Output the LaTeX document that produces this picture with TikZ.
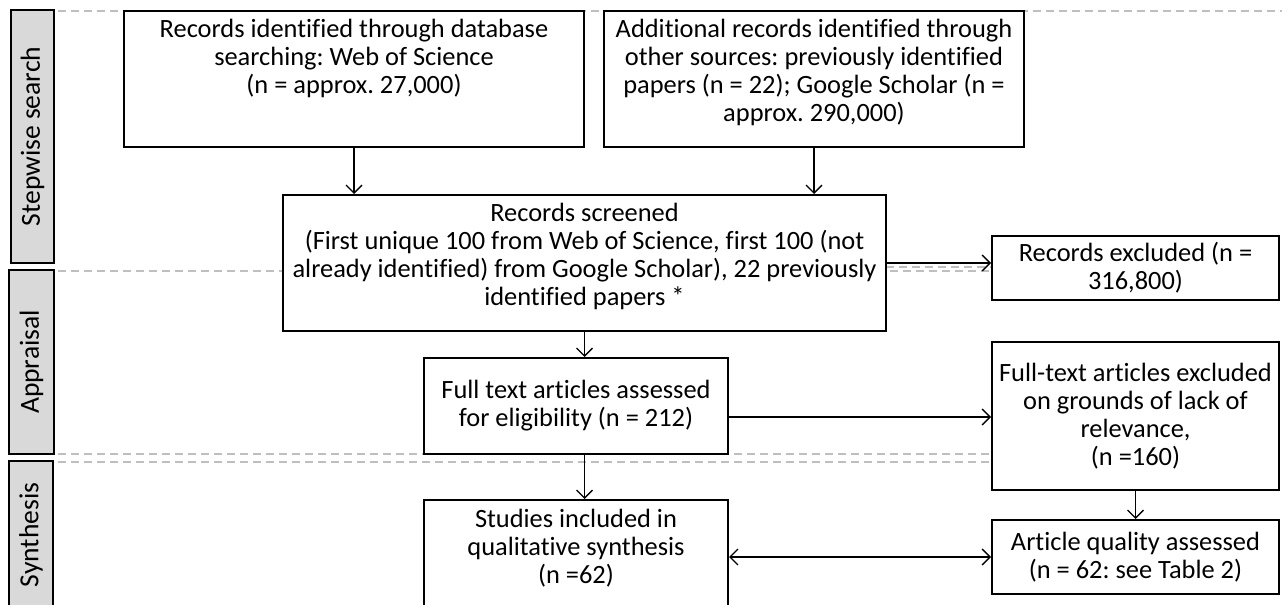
\documentclass[tikz,border=0pt]{standalone}
\usepackage{fontspec}
\setmainfont{Carlito}[Ligatures=NoCommon]
\usetikzlibrary{arrows.meta,calc}
\definecolor{lblgray}{HTML}{D9D9D9}
\definecolor{dashgray}{HTML}{BFBFBF}
\frenchspacing
\begin{document}
\begin{tikzpicture}[x=0.5pt,y=-0.5pt,
  font=\fontsize{13.2}{14}\selectfont,
  box/.style={draw, line width=1pt, fill=white, inner sep=0pt, align=center},
  lbl/.style={draw, line width=1pt, fill=lblgray, inner sep=0pt, rotate=90, font=\fontsize{13.8}{14}\selectfont},
  sepline/.style={draw=dashgray, line width=1pt, dash pattern=on 4pt off 2.5pt},
  tip/.tip={Straight Barb[length=4pt,width=8pt]},
  arr/.style={line width=0.7pt, -{tip}},
  darr/.style={line width=0.7pt, {tip}-{tip}},
  toptext/.style={anchor=north, align=center, inner sep=0pt}]
\useasboundingbox (0,0) rectangle (1282,605);
\clip (0,0) rectangle (1282,605);
% separators
\draw[sepline] (58,11) -- (1282,11);
\draw[sepline] (58,271) -- (992,271);
\draw[sepline] (886,267) -- (992,267);
\draw[sepline] (58,454) -- (992,454);
\draw[sepline] (58,462) -- (992,462);
% phase labels
\node[lbl, minimum width=126.5pt, minimum height=21.5pt] (ls) at (32.5,136.5) {Stepwise search};
\node[lbl, minimum width=92pt, minimum height=22.5pt] (la) at (31.5,362) {Appraisal};
\node[lbl, minimum width=74pt, minimum height=22pt] (lsy) at (31,535) {Synthesis};
% boxes
\node[box, minimum width=230pt, minimum height=68pt] (a) at (354,79) {};
\node[toptext] (at) at ([yshift=-4.6pt]a.north) {Records identified through database\\searching: Web of Science\\(n = approx. 27,000)};
\node[box, minimum width=210pt, minimum height=68pt] (b) at (814,79) {};
\node[toptext] (bt) at ([yshift=-4.6pt]b.north) {Additional records identified through\\other sources: previously identified\\papers (n = 22); Google Scholar (n =\\approx. 290,000)};
\node[box, minimum width=301.5pt, minimum height=68pt] (scr) at (584.5,263) {};
\node[toptext] (scrt) at ([yshift=-4.2pt]scr.north) {Records screened\\(First unique 100 from Web of Science, first 100 (not\\already identified) from Google Scholar), 22 previously\\identified papers *};
\node[box, minimum width=143.5pt, minimum height=32pt] (exc) at (1135.5,268) {Records excluded (n =\\316,800)};
\node[box, minimum width=152pt, minimum height=48pt] (ft) at (576,406) {Full text articles assessed\\for eligibility (n = 212)};
\node[box, minimum width=143.5pt, minimum height=74pt] (fte) at (1135.5,416) {Full-text articles excluded\\on grounds of lack of\\relevance,\\(n =160)};
\node[box, minimum width=152pt, minimum height=57pt] (stu) at (576,557) {};
\node[toptext] (stut) at ([yshift=-4.75pt]stu.north) {Studies included in\\qualitative synthesis\\(n =62)};
\node[box, minimum width=143.5pt, minimum height=37pt] (aq) at (1135.5,557) {Article quality assessed\\(n = 62: see Table 2)};
% connectors
\draw[arr] (a.south) -- (a.south |- scr.north);
\draw[arr] (b.south) -- (b.south |- scr.north);
\draw[arr] (scr.east) -- (scr.east -| exc.west);
\draw[arr] (scr.south) -- (scr.south |- ft.north);
\draw[arr] ([yshift=-5.5pt]ft.east) -- ([yshift=-5.5pt]ft.east -| fte.west);
\draw[arr] (ft.south -| scr.south) -- (scr.south |- stu.north);
\draw[arr] (fte.south) -- (aq.north);
\draw[darr] (aq.west -| stu.east) -- (aq.west);
\end{tikzpicture}
\end{document}
